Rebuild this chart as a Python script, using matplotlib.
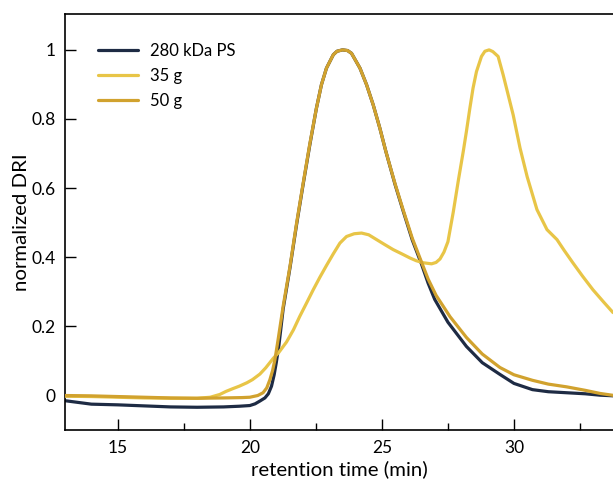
import matplotlib
matplotlib.use('Agg')
import matplotlib.pyplot as plt
from matplotlib.ticker import MultipleLocator

plt.rcParams['font.family'] = ['Lato', 'DejaVu Sans']

# 280 kDa PS reference
t_ps = [13.0, 13.5, 14.0, 15.0, 16.0, 17.0, 18.0, 19.0, 19.6, 20.0, 20.2, 20.38,
        20.57, 20.7, 20.82, 20.92, 21.0, 21.1, 21.26, 21.52, 21.77, 22.02, 22.27,
        22.52, 22.71, 22.9, 23.16, 23.3, 23.51, 23.7, 23.85, 24.17, 24.42, 24.67,
        24.92, 25.15, 25.5, 25.8, 26.15, 26.5, 26.75, 27.0, 27.5, 28.2, 28.8, 29.47,
        30.0, 30.7, 31.3, 32.0, 32.7, 33.26, 33.8]
dri_ps = [-0.015, -0.02, -0.025, -0.027, -0.03, -0.033, -0.034, -0.033, -0.031, -0.029,
          -0.024, -0.016, -0.007, 0.005, 0.027, 0.06, 0.095, 0.145, 0.25, 0.37, 0.495,
          0.612, 0.725, 0.831, 0.899, 0.947, 0.986, 0.996, 1.0, 0.998, 0.99, 0.947,
          0.899, 0.841, 0.774, 0.706, 0.61, 0.535, 0.45, 0.38, 0.325, 0.278, 0.212,
          0.142, 0.095, 0.061, 0.035, 0.017, 0.011, 0.008, 0.005, 0.001, -0.001]

# 35 g
t_35 = [13.0, 14.0, 15.0, 16.0, 17.0, 18.0, 18.5, 18.86, 19.1, 19.36, 19.6, 19.89,
        20.1, 20.38, 20.6, 20.88, 21.1, 21.39, 21.65, 21.89, 22.15, 22.4, 22.65, 22.9,
        23.16, 23.41, 23.66, 23.95, 24.23, 24.5, 24.8, 25.1, 25.43, 25.75, 26.06, 26.3,
        26.57, 26.88, 27.05, 27.2, 27.35, 27.5, 27.7, 27.9, 28.08, 28.2, 28.33, 28.45,
        28.58, 28.77, 28.9, 29.06, 29.2, 29.4, 29.59, 29.78, 29.97, 30.23, 30.5, 30.87,
        31.25, 31.63, 31.9, 32.23, 32.6, 32.99, 33.4, 33.75]
dri_35 = [-0.002, -0.003, -0.005, -0.007, -0.008, -0.008, -0.005, 0.003, 0.012, 0.02,
          0.027, 0.037, 0.046, 0.062, 0.08, 0.107, 0.125, 0.155, 0.19, 0.229, 0.268,
          0.306, 0.342, 0.376, 0.41, 0.441, 0.46, 0.468, 0.47, 0.465, 0.451, 0.437,
          0.422, 0.41, 0.398, 0.39, 0.384, 0.381, 0.385, 0.395, 0.415, 0.445, 0.53,
          0.625, 0.706, 0.764, 0.831, 0.889, 0.937, 0.981, 0.996, 1.0, 0.995, 0.981,
          0.928, 0.87, 0.812, 0.716, 0.633, 0.538, 0.48, 0.451, 0.42, 0.384, 0.345,
          0.306, 0.27, 0.24]

# 50 g
t_50 = [13.0, 14.0, 15.0, 16.0, 17.0, 18.0, 19.0, 19.7, 20.0, 20.3, 20.5, 20.64,
        20.76, 20.86, 20.95, 21.07, 21.26, 21.52, 21.77, 22.02, 22.27, 22.52, 22.71,
        22.9, 23.16, 23.3, 23.51, 23.7, 23.85, 24.17, 24.42, 24.67, 24.92, 25.15, 25.5,
        25.8, 26.15, 26.5, 26.75, 27.05, 27.58, 28.2, 28.8, 29.47, 30.0, 30.7, 31.3,
        32.0, 32.7, 33.26, 33.8]
dri_50 = [0.0, -0.001, -0.003, -0.005, -0.007, -0.008, -0.007, -0.006, -0.005, 0.0,
          0.008, 0.022, 0.046, 0.072, 0.104, 0.162, 0.258, 0.374, 0.499, 0.615, 0.728,
          0.831, 0.899, 0.947, 0.986, 0.996, 1.0, 0.998, 0.99, 0.947, 0.899, 0.841,
          0.774, 0.706, 0.612, 0.538, 0.455, 0.386, 0.337, 0.29, 0.228, 0.168, 0.12,
          0.081, 0.06, 0.044, 0.033, 0.025, 0.015, 0.006, 0.0]

labels = ['280 kDa PS', '35 g', '50 g']
colors = ['#1e2b44', '#e8c547', '#d1a22e']

fig = plt.figure(figsize=(6.13, 4.8), dpi=100)
ax = fig.add_axes([0.106, 0.104, 0.894, 0.867])

style = dict(lw=2.3, solid_joinstyle='round', solid_capstyle='round')
ax.plot(t_ps, dri_ps, color=colors[0], label=labels[0], zorder=2, **style)
ax.plot(t_35, dri_35, color=colors[1], label=labels[1], zorder=3, **style)
ax.plot(t_50, dri_50, color=colors[2], label=labels[2], zorder=4, **style)

ax.set_xlim(13.0, 33.75)
ax.set_ylim(-0.1, 1.104)
ax.xaxis.set_major_locator(MultipleLocator(5))
ax.xaxis.set_minor_locator(MultipleLocator(2.5))
ax.set_yticks([0, 0.2, 0.4, 0.6, 0.8, 1.0])
ax.set_yticklabels(['0', '0.2', '0.4', '0.6', '0.8', '1'])
ax.tick_params(which='major', direction='in', length=8, width=1, labelsize=12.5, pad=7)
ax.tick_params(which='minor', direction='in', length=5, width=1)
ax.spines['right'].set_visible(False)
for s in ['left', 'bottom', 'top']:
    ax.spines[s].set_linewidth(1.2)

ax.set_xlabel('retention time (min)', fontsize=14.7, labelpad=3)
ax.set_ylabel('normalized DRI', fontsize=14.7, labelpad=0.5)

ax.legend(loc='upper left', bbox_to_anchor=(0.048, 0.947), frameon=False, fontsize=12,
          handlelength=2.4, handletextpad=0.72, labelspacing=0.54, borderaxespad=0)

fig.savefig('out.png', dpi=100)
